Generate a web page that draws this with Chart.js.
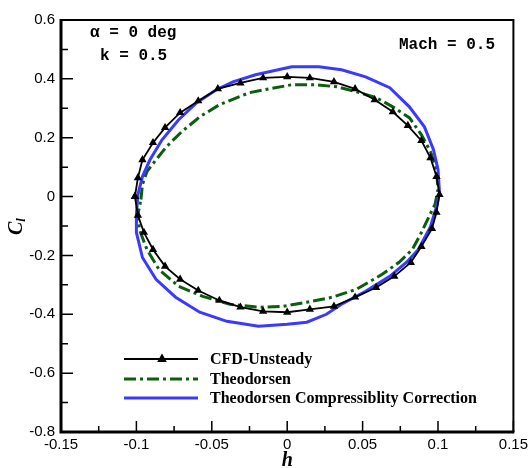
<!DOCTYPE html>
<html>
<head>
<meta charset="utf-8">
<script src="https://cdn.jsdelivr.net/npm/chart.js@4/dist/chart.umd.min.js"></script>
<style>
  html, body { margin: 0; padding: 0; background: #fff; }
</style>
</head>
<body>
<canvas id="clChart" width="532" height="468"></canvas>
<script>
// plunge displacement h vs lift coefficient Cl
const cfdH  = [-0.101, -0.099, -0.096, -0.089, -0.081, -0.071, -0.059, -0.046, -0.031, -0.016,
                0.000,  0.015,  0.031,  0.045,  0.058,  0.070,  0.080,  0.089,  0.095,  0.099,
                0.101,  0.099,  0.096,  0.089,  0.082,  0.071,  0.059,  0.045,  0.031,  0.015,
                0.000, -0.016, -0.031, -0.045, -0.059, -0.071, -0.081, -0.089, -0.095, -0.099];
const cfdCl = [ 0.000,  0.064,  0.125,  0.183,  0.234,  0.285,  0.325,  0.366,  0.386,  0.403,
                0.407,  0.403,  0.390,  0.366,  0.329,  0.288,  0.241,  0.190,  0.132,  0.068,
                0.007, -0.054, -0.109, -0.170, -0.224, -0.271, -0.309, -0.342, -0.373, -0.383,
               -0.393, -0.390, -0.376, -0.353, -0.319, -0.281, -0.237, -0.180, -0.122, -0.064];

const theoH  = [-0.097, -0.096, -0.093, -0.087, -0.080, -0.070, -0.058, -0.045, -0.032, -0.025,
                -0.012,  0.003,  0.019,  0.033,  0.046,  0.059,  0.070,  0.081,  0.089,  0.095,
                 0.099,  0.100,  0.098,  0.094,  0.089,  0.083,  0.074,  0.063,  0.046,  0.030,
                 0.013, -0.003, -0.019, -0.038, -0.056, -0.072, -0.085, -0.093, -0.098, -0.099];
const theoCl = [-0.010,  0.041,  0.085,  0.125,  0.170,  0.220,  0.271,  0.312,  0.339,  0.353,
                 0.366,  0.380,  0.380,  0.373,  0.356,  0.336,  0.305,  0.268,  0.210,  0.153,
                 0.092,  0.024, -0.027, -0.068, -0.122, -0.180, -0.224, -0.264, -0.315, -0.342,
                -0.359, -0.373, -0.376, -0.366, -0.339, -0.305, -0.248, -0.180, -0.112, -0.061];

const compH  = [-0.100, -0.099, -0.096, -0.091, -0.083, -0.072, -0.060, -0.047, -0.036, -0.021,
                -0.012,  0.003,  0.021,  0.036,  0.052,  0.068,  0.081,  0.091,  0.097,  0.100,
                 0.101,  0.099,  0.095,  0.087,  0.079,  0.068,  0.052,  0.036,  0.026,  0.013,
                 0.000, -0.019, -0.040, -0.058, -0.074, -0.087, -0.096, -0.100];
const compCl = [-0.061,  0.007,  0.068,  0.125,  0.193,  0.261,  0.319,  0.363,  0.390,  0.414,
                 0.424,  0.441,  0.441,  0.431,  0.407,  0.370,  0.305,  0.237,  0.159,  0.092,
                 0.014, -0.034, -0.102, -0.180, -0.224, -0.271, -0.322, -0.366, -0.400, -0.427,
                -0.434, -0.441, -0.424, -0.393, -0.342, -0.281, -0.207, -0.122];

const xTicks = [-0.15, -0.1, -0.05, 0, 0.05, 0.1, 0.15];
const yTicks = [-0.8, -0.6, -0.4, -0.2, 0, 0.2, 0.4, 0.6];

const seriesNames = ['CFD-Unsteady', 'Theodorsen', 'Theodorsen Compressiblity Correction'];
const notes = [
    { text: '\u03b1 = 0 deg', x: 90, y: 33 },
    { text: 'k = 0.5', x: 100, y: 56 },
    { text: 'Mach = 0.5', x: 399, y: 45 }
];

// close each loop by going back to its first point
function loop(hs, cls) {
    const pts = hs.map((h, i) => ({ x: h, y: cls[i] }));
    pts.push({ x: hs[0], y: cls[0] });
    return pts;
}

function midpoints(arr) {
    const out = [];
    for (let i = 0; i < arr.length - 1; i++) out.push((arr[i] + arr[i + 1]) / 2);
    return out;
}

// frame, inward ticks, axis titles, notes and legend
const decorations = {
    id: 'decorations',
    afterDatasetsDraw(chart) {
        const ctx = chart.ctx;
        const a = chart.chartArea;
        const xs = chart.scales.x;
        const ys = chart.scales.y;
        ctx.save();
        ctx.strokeStyle = '#000';
        ctx.fillStyle = '#000';

        // ticks
        ctx.lineWidth = 1.5;
        ctx.beginPath();
        xTicks.forEach(v => { const p = xs.getPixelForValue(v); ctx.moveTo(p, a.bottom); ctx.lineTo(p, a.bottom - 11); });
        midpoints(xTicks).forEach(v => { const p = xs.getPixelForValue(v); ctx.moveTo(p, a.bottom); ctx.lineTo(p, a.bottom - 6); });
        yTicks.forEach(v => { const p = ys.getPixelForValue(v); ctx.moveTo(a.left, p); ctx.lineTo(a.left + 12, p); });
        midpoints(yTicks).forEach(v => { const p = ys.getPixelForValue(v); ctx.moveTo(a.left, p); ctx.lineTo(a.left + 7, p); });
        ctx.stroke();

        // frame: top/right thinner than left/bottom
        ctx.lineWidth = 2;
        ctx.beginPath();
        ctx.moveTo(a.left, a.top); ctx.lineTo(a.right, a.top); ctx.lineTo(a.right, a.bottom);
        ctx.stroke();
        ctx.lineWidth = 3;
        ctx.beginPath();
        ctx.moveTo(a.left, a.top - 1); ctx.lineTo(a.left, a.bottom); ctx.lineTo(a.right + 1, a.bottom);
        ctx.stroke();

        // axis titles
        ctx.textBaseline = 'alphabetic';
        ctx.textAlign = 'center';
        ctx.font = 'italic bold 20px "Liberation Serif"';
        ctx.fillText('h', xs.getPixelForValue(0), 466);

        ctx.save();
        ctx.translate(22, 235);
        ctx.rotate(-Math.PI / 2);
        ctx.textAlign = 'left';
        ctx.font = 'italic bold 20px "Liberation Serif"';
        ctx.fillText('C', 0, 0);
        const cw = ctx.measureText('C').width;
        ctx.font = 'italic bold 13px "Liberation Serif"';
        ctx.fillText('l', cw, 3);
        ctx.restore();

        // notes
        ctx.textAlign = 'left';
        ctx.textBaseline = 'middle';
        ctx.font = 'bold 16px "Liberation Mono"';
        notes.forEach(n => ctx.fillText(n.text, n.x, n.y));

        // legend
        ctx.font = 'bold 16px "Liberation Serif"';
        const rowY = [359, 379, 398];
        chart.data.datasets.forEach((ds, i) => {
            const yy = rowY[i];
            ctx.save();
            ctx.strokeStyle = ds.borderColor;
            ctx.lineWidth = ds.borderWidth;
            ctx.setLineDash(ds.borderDash || []);
            ctx.beginPath();
            ctx.moveTo(124, yy); ctx.lineTo(198, yy);
            ctx.stroke();
            ctx.restore();
            if (ds.pointRadius > 0) {
                ctx.beginPath();
                const r = ds.pointRadius;
                ctx.moveTo(162, yy - r * 1.15);
                ctx.lineTo(162 + r, yy + r * 0.6);
                ctx.lineTo(162 - r, yy + r * 0.6);
                ctx.closePath();
                ctx.fill();
            }
            ctx.fillStyle = '#000';
            ctx.fillText(ds.label, 210, yy + 1);
        });
        ctx.restore();
    }
};

new Chart(document.getElementById('clChart').getContext('2d'), {
    type: 'scatter',
    data: {
        datasets: [
            {
                label: seriesNames[0],
                data: loop(cfdH, cfdCl),
                showLine: true,
                borderColor: '#000',
                backgroundColor: '#000',
                borderWidth: 1.8,
                pointStyle: 'triangle',
                pointRadius: 4.8,
                pointBorderWidth: 0,
                order: 0
            },
            {
                label: seriesNames[1],
                data: loop(theoH, theoCl),
                showLine: true,
                borderColor: '#0b5e0b',
                backgroundColor: '#0b5e0b',
                borderWidth: 3,
                borderDash: [12, 4, 3, 4],
                pointRadius: 0,
                order: 2
            },
            {
                label: seriesNames[2],
                data: loop(compH, compCl),
                showLine: true,
                borderColor: '#3a3aff',
                backgroundColor: '#3a3aff',
                borderWidth: 3,
                pointRadius: 0,
                order: 1
            }
        ]
    },
    options: {
        responsive: false,
        animation: false,
        devicePixelRatio: 1,
        layout: { padding: { top: 20, right: 18, left: 0, bottom: 0 } },
        plugins: { legend: { display: false }, tooltip: { enabled: false } },
        elements: { line: { tension: 0 } },
        scales: {
            x: {
                type: 'linear',
                min: -0.15,
                max: 0.15,
                afterBuildTicks: s => { s.ticks = xTicks.map(v => ({ value: v })); },
                afterFit: s => { s.height = 36; },
                grid: { display: false, drawTicks: false },
                border: { display: false },
                ticks: {
                    padding: 4,
                    color: '#000',
                    font: { family: '"Liberation Sans"', size: 15 },
                    callback: v => String(Math.round(v * 100) / 100)
                }
            },
            y: {
                type: 'linear',
                min: -0.8,
                max: 0.6,
                afterBuildTicks: s => { s.ticks = yTicks.map(v => ({ value: v })); },
                afterFit: s => { s.width = 61; },
                grid: { display: false, drawTicks: false },
                border: { display: false },
                ticks: {
                    padding: 6,
                    color: '#000',
                    font: { family: '"Liberation Sans"', size: 15 },
                    callback: v => String(Math.round(v * 10) / 10)
                }
            }
        }
    },
    plugins: [decorations]
});
</script>
</body>
</html>
